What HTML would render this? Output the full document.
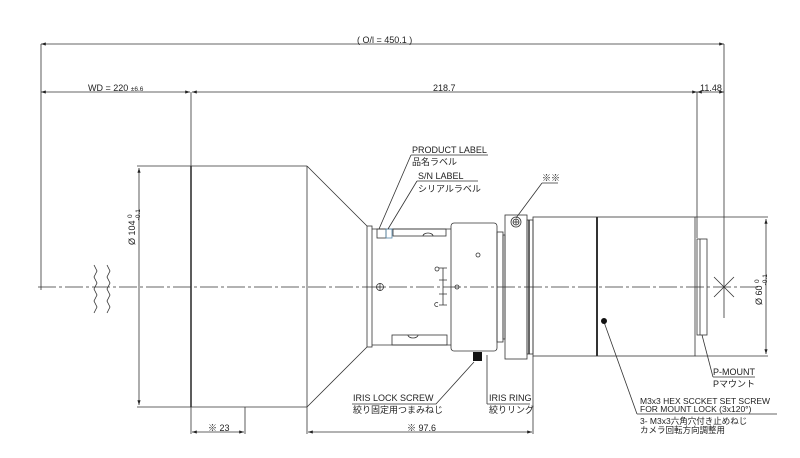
<!DOCTYPE html>
<html><head><meta charset="utf-8"><style>
html,body{margin:0;padding:0;background:#fff;}
svg{display:block;}
text{font-family:"Liberation Sans","Noto Sans CJK JP",sans-serif;fill:#222;}
</style></head><body>
<svg width="800" height="458" viewBox="0 0 800 458" xmlns="http://www.w3.org/2000/svg">
<defs>
<marker id="a" markerWidth="6" markerHeight="4" refX="6" refY="2" orient="auto-start-reverse"><path d="M0,0L6,2L0,4z" fill="#222"/></marker>
</defs>
<g stroke="#333" stroke-width="0.8" fill="none">
<!-- dims -->
<line x1="41" y1="44" x2="724" y2="44" marker-start="url(#a)" marker-end="url(#a)"/>
<line x1="41" y1="92" x2="190" y2="92" marker-start="url(#a)" marker-end="url(#a)"/>
<line x1="192" y1="92" x2="697" y2="92" marker-start="url(#a)" marker-end="url(#a)"/>
<line x1="697" y1="92" x2="724" y2="92" marker-start="url(#a)" marker-end="url(#a)"/>
<line x1="41" y1="44" x2="41" y2="290"/>
<line x1="724" y1="44" x2="724" y2="318"/>
<line x1="697" y1="92" x2="697" y2="238"/>
<line x1="191" y1="92" x2="191" y2="166"/>
<!-- centerline -->
<line x1="38" y1="287" x2="760" y2="287" stroke-dasharray="18,3,3,3"/>
<path d="M94,265 l3,6 -3,6 3,6 -3,6 3,6 -3,6 3,6 -3,6 M107,265 l3,6 -3,6 3,6 -3,6 3,6 -3,6 3,6 -3,6"/>
<!-- big cylinder -->
<line x1="137" y1="166" x2="307" y2="166"/>
<line x1="137" y1="407" x2="307" y2="407"/>
<line x1="191" y1="166" x2="191" y2="407" stroke-width="1.6"/>
<line x1="307" y1="166" x2="307" y2="407"/>
<line x1="139" y1="168" x2="139" y2="405" marker-start="url(#a)" marker-end="url(#a)"/>
<!-- cone -->
<path d="M307,166 L367,226 M307,407 L367,347"/>
<rect x="367" y="226" width="5" height="121"/>
<path d="M372,229 H451 M372,345 H451"/>
<rect x="393" y="229" width="53" height="7"/>
<rect x="392" y="335" width="55" height="10"/>
<path d="M423,236 a5,3 0 0 1 10,0 M408,335 a5,3 0 0 0 10,0"/>
<circle cx="380" cy="287" r="3.5"/><line x1="376" y1="287" x2="384" y2="287"/><line x1="380" y1="283" x2="380" y2="291"/>
<rect x="377" y="229" width="9" height="9"/><rect x="386" y="229" width="6" height="9" stroke="#58a"/>
<path d="M443,268 V305 M439,268 h8 M439,280 h8 M439,294 h8 M439,305 h8"/>
<circle cx="437" cy="269" r="2"/><path d="M438,303 a2,2 0 1 0 0,3"/>
<!-- iris ring -->
<rect x="451" y="223" width="46" height="128" rx="3"/>
<circle cx="457" cy="287" r="2"/><circle cx="478" cy="255" r="2"/>
<rect x="497" y="232" width="6" height="110"/>
<rect x="503" y="235" width="2" height="104"/>
<rect x="505" y="215" width="22" height="144"/>
<circle cx="516" cy="222" r="5"/><circle cx="516" cy="222" r="3"/><line x1="513" y1="222" x2="519" y2="222"/><line x1="516" y1="219" x2="516" y2="225"/>
<rect x="527" y="220" width="6" height="134"/>
<line x1="529" y1="220" x2="529" y2="354" stroke-width="1.5"/>
<!-- main cylinder -->
<rect x="533" y="217" width="162" height="139"/>
<line x1="597" y1="217" x2="597" y2="356" stroke-width="2"/>
<rect x="697" y="239" width="10" height="96"/>
<line x1="700" y1="239" x2="700" y2="335"/>
<path d="M714,277 L734,297 M714,297 L734,277"/>
<line x1="695" y1="217" x2="768" y2="217"/>
<line x1="695" y1="356" x2="768" y2="356"/>
<line x1="766" y1="219" x2="766" y2="354" marker-start="url(#a)" marker-end="url(#a)"/>
<!-- bottom dims -->
<line x1="245" y1="407" x2="245" y2="434"/>
<line x1="191" y1="407" x2="191" y2="434"/>
<line x1="307" y1="407" x2="307" y2="434"/>
<line x1="533" y1="356" x2="533" y2="434"/>
<line x1="192" y1="432" x2="244" y2="432" marker-start="url(#a)" marker-end="url(#a)"/>
<line x1="308" y1="432" x2="532" y2="432" marker-start="url(#a)" marker-end="url(#a)"/>
<!-- leaders -->
<path d="M411,155 H488 M411,155 L379,229" />
<path d="M417,181 H478 M417,181 L388,229"/>
<path d="M542,183 H558 M542,183 L516,218"/>
<path d="M352,404 H436 L474,362"/>
<path d="M487,404 V355" />
<path d="M487,404 H530"/>
<path d="M713,377 H755 M713,377 L702,335"/>
<path d="M637,414 H777 M637,414 L604,322"/>
</g>
<rect x="473" y="352" width="9" height="9" fill="#111"/>
<circle cx="604" cy="321" r="3" fill="#111"/>
<g font-size="9">
<text x="357" y="43">( O/l = 450.1 )</text>
<text x="88" y="91">WD = 220 <tspan font-size="6.5">±6.6</tspan></text>
<text x="433" y="91">218.7</text>
<text x="700" y="91">11.48</text>
<text x="412" y="153">PRODUCT LABEL</text>
<text x="412" y="165">品名ラベル</text>
<text x="418" y="179">S/N LABEL</text>
<text x="418" y="192">シリアルラベル</text>
<text x="542" y="181" fill="#555">※※</text>
<text x="353" y="401">IRIS LOCK SCREW</text>
<text x="353" y="413">絞り固定用つまみねじ</text>
<text x="489" y="401">IRIS RING</text>
<text x="489" y="413">絞りリング</text>
<text x="208" y="431">※ 23</text>
<text x="407" y="431">※ 97.6</text>
<text x="713" y="375">P-MOUNT</text>
<text x="713" y="387">Pマウント</text>
<text x="640" y="404" font-size="8.5">M3x3 HEX SCCKET SET SCREW</text>
<text x="640" y="412" font-size="8.5">FOR MOUNT LOCK (3x120°)</text>
<text x="640" y="424" font-size="8.5">3- M3x3六角穴付き止めねじ</text>
<text x="640" y="433" font-size="8.5">カメラ回転方向調整用</text>
<text transform="translate(135,245) rotate(-90)">Ø 104 <tspan font-size="6.5" dy="-3">0</tspan><tspan font-size="6.5" dx="-6" dy="8">-0.1</tspan></text>
<text transform="translate(762,305) rotate(-90)">Ø 60 <tspan font-size="6.5" dy="-3">0</tspan><tspan font-size="6.5" dx="-6" dy="8">-0.1</tspan></text>
</g>
</svg>
</body></html>
